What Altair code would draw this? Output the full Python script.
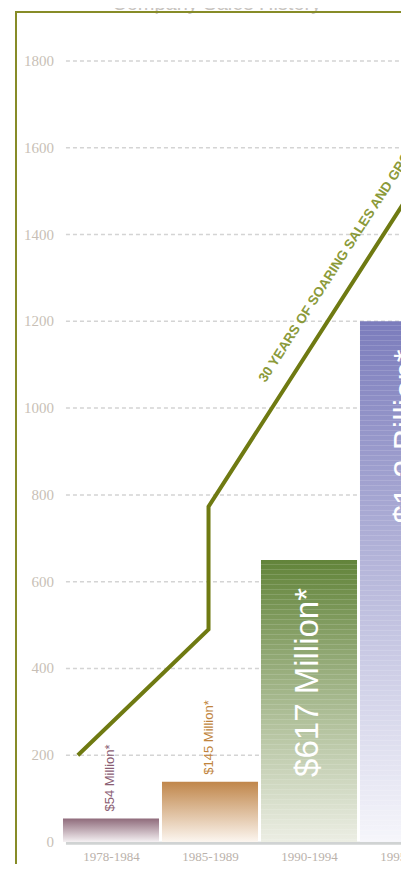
import json
import altair as alt
import pandas as pd

# ---------------- data ----------------
periods = ["1978-1984", "1985-1989", "1990-1994", "1995-1999"]
sales = [54, 139, 650, 1200]
bar_labels = ["$54 Million*", "$145 Million*", "$617 Million*", "$1.2 Billion*"]

trend_x = [0.16, 1.48, 1.48, 3.52]
trend_y = [200, 490, 773, 1497]
trend_text = "30 YEARS OF SOARING SALES AND GROWTH"
trend_text_pos = [2.217, 1034]

tick_values = [0, 200, 400, 600, 800, 1000, 1200, 1400, 1600, 1800]
grid_values = [200, 400, 600, 800, 1000, 1200, 1400, 1600, 1800]
title_text = "Company Sales History"

# ---------------- styles ----------------
bar_top_colors = ["#8f6b7b", "#c0864a", "#62843a", "#7b7cbc"]
bar_bottom_colors = ["#f5f1f3", "#fcf6f0", "#eceee4", "#f6f6fb"]
bar_striped = [False, False, True, True]
small_label_colors = ["#8a5d73", "#c0843c"]
LINE_COLOR = "#6f7a12"
FRAME_COLOR = "#878c28"

W, H = 385, 852
PX_PER_UNIT_Y = 0.43389
X_SCALE = alt.Scale(domain=[-0.4646, 3.4242], nice=False, zero=False)
Y_SCALE = alt.Scale(domain=[-50.7, 1912.9], nice=False, zero=False)


def hex_rgb(h):
    h = h.lstrip("#")
    return [int(h[k:k + 2], 16) for k in (0, 2, 4)]


def rgb_hex(c):
    return "#" + "".join(f"{max(0, min(255, int(round(v)))):02x}" for v in c)


def mix(c1, c2, t):
    return [a + (b - a) * t for a, b in zip(c1, c2)]


def bar_gradient(top, bottom, striped, px_height):
    t, b = hex_rgb(top), hex_rgb(bottom)
    if not striped:
        stops = [alt.GradientStop(offset=0, color=top),
                 alt.GradientStop(offset=1, color=bottom)]
    else:
        stops = []
        step = 5.0 / px_height
        w = 1.2 / px_height
        p = 0.0
        while p + step < 1:
            base0 = mix(t, b, p)
            s = p + step - w
            base_s = mix(t, b, s)
            light = mix(base_s, [255, 255, 255], 0.14)
            stops.append(alt.GradientStop(offset=round(p, 5), color=rgb_hex(base0)))
            stops.append(alt.GradientStop(offset=round(s, 5), color=rgb_hex(base_s)))
            stops.append(alt.GradientStop(offset=round(s + 0.0001, 5), color=rgb_hex(light)))
            stops.append(alt.GradientStop(offset=round(p + step - 0.0001, 5), color=rgb_hex(light)))
            p += step
        stops.append(alt.GradientStop(offset=round(p, 5), color=rgb_hex(mix(t, b, p))))
        stops.append(alt.GradientStop(offset=1, color=bottom))
    return alt.LinearGradient(gradient="linear", stops=stops, x1=0, x2=0, y1=0, y2=1)


bars_df = pd.DataFrame({
    "period": periods,
    "sales": sales,
    "label": bar_labels,
    "i": list(range(len(periods))),
})
bars_df["x0"] = bars_df["i"] + 0.01
bars_df["x1"] = bars_df["i"] + 0.98
bars_df["xc"] = bars_df["i"] + 0.495
bars_df["xm"] = bars_df["i"] + 0.5
bars_df["zero"] = 0

grid_df = pd.DataFrame({"v": grid_values})
grid_df["x0"] = 0.04
grid_df["x1"] = 3.6

ticks_df = pd.DataFrame({"v": tick_values, "lab": [str(v) for v in tick_values]})
ticks_df["x"] = -0.08

base_df = pd.DataFrame({"v": [-3], "x0": [0.04], "x1": [3.6]})

line_df = pd.DataFrame({"x": trend_x, "y": trend_y, "o": list(range(len(trend_x)))})
text_df = pd.DataFrame({"x": [trend_text_pos[0]], "y": [trend_text_pos[1]], "t": [trend_text]})
one_df = pd.DataFrame({"t": [title_text]})


def X(field):
    return alt.X(field, scale=X_SCALE, axis=None)


def Y(field):
    return alt.Y(field, scale=Y_SCALE, axis=None)


grid = alt.Chart(grid_df).mark_rule(
    color="#d4d4d4", strokeWidth=1.5, strokeDash=[4, 3], clip=True
).encode(x=X("x0:Q"), x2="x1:Q", y=Y("v:Q"))

y_labels = alt.Chart(ticks_df).mark_text(
    align="right", baseline="middle", font="Liberation Serif", fontSize=15,
    color="#c8bfb6",
).encode(x=X("x:Q"), y=Y("v:Q"), text="lab:N")

x_labels = alt.Chart(bars_df).mark_text(
    align="center", baseline="middle", dy=15, font="Liberation Serif",
    fontSize=13, color="#bab2ab", clip=True,
).encode(x=X("xm:Q"), y=Y("zero:Q"), text="period:N")

baseline = alt.Chart(base_df).mark_rule(
    color="#d0d3d3", strokeWidth=3, clip=True
).encode(x=X("x0:Q"), x2="x1:Q", y=Y("v:Q"))

bar_layers = []
for i in range(len(periods)):
    grad = bar_gradient(bar_top_colors[i], bar_bottom_colors[i], bar_striped[i],
                        sales[i] * PX_PER_UNIT_Y)
    b = alt.Chart(bars_df).transform_filter(alt.datum.i == i).mark_bar(
        color=grad, strokeWidth=0, clip=True
    ).encode(x=X("x0:Q"), x2="x1:Q", y=Y("sales:Q"), y2="zero:Q")
    bar_layers.append(b)

small_labels = []
for i in range(2):
    t = alt.Chart(bars_df).transform_filter(alt.datum.i == i).mark_text(
        angle=270, align="left", baseline="middle", dx=7, dy=-1,
        font="Liberation Sans", fontSize=13, color=small_label_colors[i],
    ).encode(x=X("xc:Q"), y=Y("sales:Q"), text="label:N")
    small_labels.append(t)

big_labels = alt.Chart(bars_df).transform_filter(alt.datum.i >= 2).mark_text(
    angle=270, align="right", baseline="middle", dx=-28, dy=-1,
    font="Liberation Sans", fontSize=33, color="white", clip=True,
).encode(x=X("xc:Q"), y=Y("sales:Q"), text="label:N")

trend = alt.Chart(line_df).mark_line(
    color=LINE_COLOR, strokeWidth=4, strokeJoin="miter", strokeCap="butt", clip=True
).encode(x=X("x:Q"), y=Y("y:Q"), order="o:Q")

trend_label = alt.Chart(text_df).mark_text(
    angle=302.74, align="left", baseline="middle", dy=-23, clip=True,
    font="Liberation Sans", fontWeight="bold", fontSize=13.5, color="#8b9a3a",
).encode(x=X("x:Q"), y=Y("y:Q"), text="t:N")

title = alt.Chart(one_df).mark_text(
    align="center", baseline="alphabetic", font="Liberation Sans",
    fontSize=20, color="#c8c4c0",
).encode(x=alt.value(200.7), y=alt.value(-2), text="t:N")

frame_left = alt.Chart(one_df).mark_rule(color=FRAME_COLOR, strokeWidth=2).encode(
    x=alt.value(0), y=alt.value(-1), y2=alt.value(H + 20)
)
frame_top = alt.Chart(one_df).mark_rule(color=FRAME_COLOR, strokeWidth=2).encode(
    x=alt.value(-1), x2=alt.value(W), y=alt.value(0)
)

chart = alt.layer(
    grid, baseline, *bar_layers, y_labels, x_labels, *small_labels, big_labels,
    trend, trend_label, title, frame_left, frame_top
).properties(
    width=W,
    height=H,
    padding={"left": 8, "top": 4, "right": 0, "bottom": 0},
    autosize=alt.AutoSizeParams(type="none"),
    background="white",
).configure_view(stroke=None)

chart.save("out.html", embed_options={"renderer": "svg", "actions": False})
